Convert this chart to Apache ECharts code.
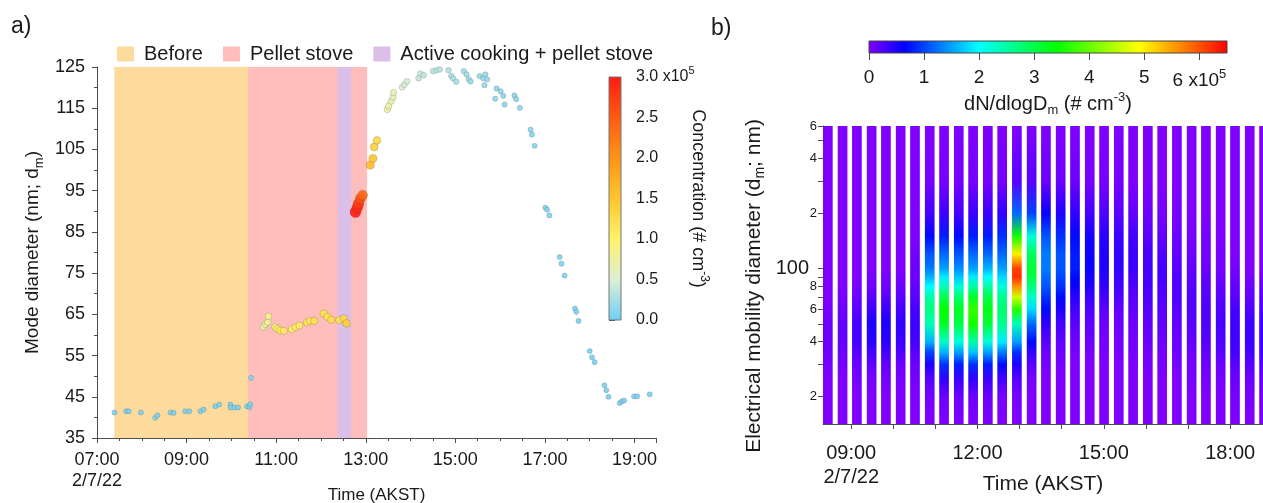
<!DOCTYPE html>
<html>
<head>
<meta charset="utf-8">
<script src="https://cdn.jsdelivr.net/npm/echarts@6/dist/echarts.min.js"></script>
<style>
  html, body { margin: 0; padding: 0; background: #fff; }
  #chart { width: 1263px; height: 503px; }
</style>
</head>
<body>
<div id="chart"></div>
<script>
// ---- panel a) mode diameter, time in decimal hours (AKST), conc in 1e5 #/cm3
var modeTime = [7.39, 7.65, 7.71, 7.98, 8.30, 8.35, 8.64, 8.71, 8.97, 9.06, 9.31, 9.38, 9.64, 9.73, 9.98, 9.98, 10.07, 10.15, 10.35, 10.40, 10.42, 10.44,
  10.71, 10.76, 10.81, 10.83, 10.98, 11.03, 11.09, 11.17, 11.35, 11.43, 11.52, 11.69, 11.76, 11.85, 12.06, 12.14, 12.23, 12.41, 12.51, 12.57,
  12.77, 12.81, 12.84, 12.88, 12.93,
  13.10, 13.16, 13.19, 13.25,
  13.48, 13.51, 13.57, 13.61, 13.62,
  13.81, 13.86, 13.92, 14.18, 14.22, 14.29, 14.50, 14.58, 14.65, 14.85, 14.91, 14.95, 15.02, 15.19, 15.25, 15.30, 15.34,
  15.54, 15.62, 15.67, 15.71, 15.65, 15.92, 16.01, 16.07, 15.89, 16.10, 16.32, 16.36, 16.44, 16.68, 16.71, 16.77,
  17.01, 17.05, 17.10, 17.33, 17.37, 17.44, 17.67, 17.70, 17.75, 18.00, 18.05, 18.11, 18.33, 18.37, 18.42, 18.67, 18.72, 18.77, 18.99, 19.06, 19.34];
var modeDiam = [41.2, 41.5, 41.5, 41.2, 39.9, 40.5, 41.2, 41.1, 41.5, 41.5, 41.5, 41.9, 42.7, 43.1, 43.1, 42.4, 42.4, 42.4, 42.7, 42.5, 43.2, 49.6,
  61.9, 62.6, 63.1, 64.5, 61.9, 61.5, 61.1, 61.0, 61.4, 61.9, 62.3, 63.1, 63.4, 63.4, 65.2, 64.4, 63.7, 63.6, 64.0, 62.8,
  89.8, 90.9, 91.9, 93.1, 93.9,
  101.2, 102.8, 105.6, 107.2,
  114.7, 115.5, 116.7, 117.7, 118.8,
  120.1, 120.7, 121.5, 122.3, 123.4, 123.0, 124.0, 124.2, 124.4, 124.2, 122.8, 122.2, 121.4, 124.0, 123.2, 122.0, 121.5,
  122.8, 122.3, 123.2, 122.0, 120.6, 119.8, 119.1, 118.0, 117.3, 115.9, 118.1, 117.2, 115.1, 109.8, 108.6, 105.9,
  90.9, 90.4, 89.0, 78.9, 77.3, 74.4, 66.4, 65.6, 63.4, 56.1, 54.6, 53.4, 47.8, 46.6, 45.0, 43.5, 43.9, 44.1, 45.1, 45.1, 45.6];
var modeConc = [0.05, 0.05, 0.05, 0.05, 0.05, 0.05, 0.05, 0.05, 0.05, 0.05, 0.05, 0.05, 0.05, 0.05, 0.05, 0.05, 0.05, 0.05, 0.05, 0.05, 0.05, 0.08,
  0.7, 0.75, 0.8, 0.85, 1.0, 1.05, 1.1, 1.1, 1.05, 1.1, 1.1, 1.15, 1.15, 1.2, 1.2, 1.2, 1.25, 1.2, 1.3, 1.4,
  3.0, 2.9, 2.8, 2.6, 2.4,
  1.6, 1.55, 1.4, 1.3,
  0.75, 0.7, 0.7, 0.65, 0.65,
  0.5, 0.48, 0.45, 0.4, 0.4, 0.38, 0.35, 0.33, 0.32, 0.28, 0.27, 0.26, 0.25, 0.22, 0.21, 0.2, 0.2,
  0.17, 0.17, 0.17, 0.17, 0.17, 0.14, 0.14, 0.14, 0.14, 0.14, 0.12, 0.12, 0.12, 0.1, 0.1, 0.1,
  0.08, 0.08, 0.08, 0.07, 0.07, 0.07, 0.06, 0.06, 0.06, 0.05, 0.05, 0.05, 0.05, 0.05, 0.05, 0.05, 0.05, 0.05, 0.05, 0.05, 0.05];

var periodNames = ['Before', 'Pellet stove', 'Active cooking + pellet stove'];
var periodStart = [7.387, 10.372, 12.373];
var periodEnd = [10.372, 13.03, 12.672];

var timeTicksA = [7, 9, 11, 13, 15, 17, 19];
var concTicks = [0, 0.5, 1.0, 1.5, 2.0, 2.5, 3.0];

// ---- panel b) size distribution scans (dN/dlogDm in 1e5 #/cm3)
var scanStart = [8.33, 8.68, 9.02, 9.37, 9.71, 10.06, 10.40, 10.75, 11.09, 11.44, 11.78, 12.13, 12.47, 12.82, 13.17, 13.51,
  13.86, 14.20, 14.55, 14.89, 15.24, 15.58, 15.93, 16.27, 16.62, 16.97, 17.31, 17.66, 18.00, 18.35, 18.69];
var scanLength = 0.23;
var sizeBins = [14, 20, 25, 30, 35, 40, 50, 60, 70, 80, 90, 100, 120, 150, 200, 300, 600];
var scanValues = [
  [0, 0, 0, 0.05, 0.1, 0.1, 0.1, 0.05, 0, 0, 0, 0, 0, 0, 0, 0, 0],
  [0, 0, 0, 0.05, 0.1, 0.15, 0.15, 0.1, 0.05, 0, 0, 0, 0, 0, 0, 0, 0],
  [0, 0, 0.05, 0.1, 0.2, 0.3, 0.3, 0.2, 0.1, 0.05, 0, 0, 0, 0, 0, 0, 0],
  [0, 0, 0.05, 0.15, 0.3, 0.45, 0.5, 0.35, 0.2, 0.1, 0.05, 0, 0, 0, 0, 0, 0],
  [0, 0, 0.05, 0.15, 0.3, 0.45, 0.5, 0.35, 0.2, 0.1, 0.05, 0, 0, 0, 0, 0, 0],
  [0, 0, 0.05, 0.1, 0.25, 0.35, 0.4, 0.3, 0.2, 0.1, 0.05, 0, 0, 0, 0, 0, 0],
  [0, 0, 0.05, 0.1, 0.2, 0.3, 0.35, 0.3, 0.2, 0.15, 0.1, 0.1, 0.05, 0, 0, 0, 0],
  [0, 0.05, 0.2, 0.5, 1.0, 1.6, 2.4, 2.7, 2.5, 2.0, 1.6, 1.3, 1.1, 0.7, 0.3, 0.05, 0],
  [0, 0.1, 0.4, 0.9, 1.6, 2.3, 3.2, 3.4, 3.0, 2.4, 1.9, 1.5, 1.2, 0.8, 0.35, 0.05, 0],
  [0, 0.1, 0.35, 0.8, 1.5, 2.2, 3.0, 3.2, 2.8, 2.2, 1.7, 1.4, 1.1, 0.7, 0.3, 0.05, 0],
  [0, 0.1, 0.4, 0.9, 1.7, 2.5, 3.5, 3.7, 3.2, 2.5, 1.9, 1.5, 1.2, 0.8, 0.35, 0.05, 0],
  [0, 0.1, 0.35, 0.8, 1.5, 2.2, 3.1, 3.3, 3.0, 2.5, 2.0, 1.6, 1.2, 0.8, 0.35, 0.05, 0],
  [0, 0.05, 0.3, 0.7, 1.3, 1.9, 2.6, 2.8, 2.6, 2.2, 1.8, 1.5, 1.2, 0.9, 0.4, 0.05, 0],
  [0, 0.05, 0.2, 0.5, 0.9, 1.5, 2.4, 3.6, 4.6, 5.6, 6.2, 6.1, 5.0, 3.5, 1.2, 0.2, 0],
  [0, 0, 0.05, 0.2, 0.4, 0.7, 1.2, 1.8, 2.3, 2.7, 3.0, 3.1, 2.9, 2.2, 1.0, 0.2, 0],
  [0, 0, 0, 0.05, 0.1, 0.2, 0.4, 0.7, 0.9, 1.1, 1.2, 1.3, 1.3, 1.1, 0.6, 0.1, 0],
  [0, 0, 0, 0.05, 0.1, 0.15, 0.3, 0.5, 0.7, 0.9, 1.0, 1.1, 1.1, 0.9, 0.5, 0.1, 0],
  [0, 0, 0, 0, 0.05, 0.1, 0.2, 0.3, 0.45, 0.6, 0.7, 0.8, 0.8, 0.7, 0.4, 0.1, 0],
  [0, 0, 0, 0, 0.05, 0.1, 0.15, 0.25, 0.35, 0.5, 0.55, 0.6, 0.6, 0.55, 0.3, 0.05, 0],
  [0, 0, 0, 0, 0.05, 0.05, 0.1, 0.2, 0.3, 0.4, 0.45, 0.5, 0.5, 0.45, 0.25, 0.05, 0],
  [0, 0, 0, 0, 0.05, 0.05, 0.1, 0.15, 0.25, 0.3, 0.35, 0.4, 0.4, 0.35, 0.2, 0.05, 0],
  [0, 0, 0, 0, 0.05, 0.05, 0.1, 0.15, 0.2, 0.25, 0.3, 0.35, 0.35, 0.3, 0.15, 0, 0],
  [0, 0, 0, 0.05, 0.05, 0.1, 0.15, 0.2, 0.25, 0.3, 0.3, 0.3, 0.3, 0.2, 0.1, 0, 0],
  [0, 0, 0, 0.05, 0.05, 0.1, 0.15, 0.2, 0.25, 0.25, 0.3, 0.3, 0.25, 0.15, 0.05, 0, 0],
  [0, 0, 0, 0.05, 0.1, 0.1, 0.15, 0.2, 0.25, 0.25, 0.25, 0.2, 0.15, 0.1, 0.05, 0, 0],
  [0, 0, 0.05, 0.05, 0.1, 0.15, 0.2, 0.25, 0.25, 0.2, 0.2, 0.15, 0.1, 0.05, 0, 0, 0],
  [0, 0, 0.05, 0.1, 0.15, 0.2, 0.25, 0.25, 0.2, 0.2, 0.15, 0.1, 0.05, 0.05, 0, 0, 0],
  [0, 0, 0.05, 0.1, 0.2, 0.25, 0.3, 0.25, 0.2, 0.15, 0.1, 0.05, 0.05, 0, 0, 0, 0],
  [0, 0.05, 0.1, 0.2, 0.3, 0.35, 0.35, 0.3, 0.2, 0.15, 0.1, 0.05, 0, 0, 0, 0, 0],
  [0, 0.05, 0.1, 0.2, 0.3, 0.35, 0.35, 0.25, 0.15, 0.1, 0.05, 0, 0, 0, 0, 0, 0],
  [0, 0.05, 0.1, 0.2, 0.3, 0.35, 0.35, 0.25, 0.15, 0.1, 0.05, 0, 0, 0, 0, 0, 0]
];
var timeTicksB = [9, 10, 11, 12, 13, 14, 15, 16, 17, 18];
var timeLabelsB = [9, 12, 15, 18];
var sizeTicks = [20, 30, 40, 50, 60, 70, 80, 90, 100, 200, 300, 400, 500, 600];
var sizeLabels = [20, 40, 60, 80, 100, 200, 400, 600];
var heatTicks = [0, 1, 2, 3, 4, 5, 6];

// colours
var FONT = 'Liberation Sans';
var INK = '#1a1a1a';
var AXIS = '#4d4d4d';
var periodColors = ['#fddb9c', '#ffbdbc', '#dbbfe9'];
var concPalette = ['#6dcff6', '#dcefd4', '#fff36b', '#ffc52e', '#ff9418', '#ff5a12', '#ff1a12'];
var heatStops = [[0, '#8000ff'], [0.65, '#0000ff'], [2.0, '#00ffff'], [3.4, '#00ff00'], [4.9, '#ffff00'], [6.5, '#ff0000']];
var heatMax = 6.5;

function hourLabel(v) {
  var h = Math.round(v);
  return (h < 10 ? '0' : '') + h + ':00';
}

function heatColor(v) {
  for (var k = 1; k < heatStops.length; k++) {
    var a = heatStops[k - 1], b = heatStops[k];
    if (v <= b[0] || k === heatStops.length - 1) {
      var f = Math.max(0, Math.min(1, (v - a[0]) / (b[0] - a[0])));
      return echarts.color.lerp(f, [a[1], b[1]]);
    }
  }
}

var chart = echarts.init(document.getElementById('chart'));

var scatterData = modeTime.map(function (t, i) { return [t, modeDiam[i], modeConc[i]]; });
var scanData = scanStart.map(function (t, i) { return [t, 100, i]; });

var lineStyle = { color: AXIS, width: 1 };
var supRich = {
  x: { fontFamily: FONT, color: INK, fontSize: 16, lineHeight: 24 },
  s: { fontFamily: FONT, color: INK, fontSize: 11, lineHeight: 24, verticalAlign: 'top' }
};

var bands = periodNames.map(function (name, k) {
  return {
    name: name, type: 'line', xAxisIndex: 0, yAxisIndex: 0, data: [], z: 1,
    itemStyle: { color: periodColors[k] },
    markArea: {
      silent: true,
      itemStyle: { color: periodColors[k], opacity: 1 },
      data: [[{ xAxis: periodStart[k] }, { xAxis: periodEnd[k] }]]
    }
  };
});

var option = {
  animation: false,
  textStyle: { fontFamily: FONT, color: INK },
  graphic: [
    { type: 'text', left: 11, top: 15, style: { text: 'a)', fontSize: 23, fontFamily: FONT, fill: INK } },
    { type: 'text', left: 711, top: 17, style: { text: 'b)', fontSize: 23, fontFamily: FONT, fill: INK } }
  ],
  legend: {
    left: 112, top: 39, icon: 'rect', itemWidth: 17, itemHeight: 15, itemGap: 20,
    selectedMode: false,
    textStyle: { fontSize: 20, color: INK, fontFamily: FONT, padding: [0, 0, 0, 5] },
    data: periodNames
  },
  visualMap: [{
    show: false, type: 'continuous', seriesIndex: 3, dimension: 2, min: 0, max: 3,
    inRange: { color: concPalette, symbolSize: [5, 11] }
  }],
  grid: [
    { left: 97, top: 67, width: 559, height: 371, outerBoundsMode: 'none' },
    { left: 823, top: 126, right: 0, height: 298, outerBoundsMode: 'none' },
    { left: 609, top: 77, width: 12, height: 243, outerBoundsMode: 'none' },
    { left: 869, top: 41, width: 358, height: 12, outerBoundsMode: 'none' }
  ],
  xAxis: [
    {
      gridIndex: 0, type: 'value', min: 7, max: 19.48, interval: 2,
      axisLine: { lineStyle: lineStyle },
      axisTick: { length: 5, lineStyle: lineStyle },
      minorTick: { show: true, splitNumber: 4, length: 3, lineStyle: lineStyle },
      splitLine: { show: false },
      axisLabel: {
        fontSize: 18, lineHeight: 21, margin: 12, color: INK, showMaxLabel: false,
        formatter: function (v) { return hourLabel(v) + (v === timeTicksA[0] ? '\n2/7/22' : ''); }
      },
      name: 'Time (AKST)', nameLocation: 'middle', nameGap: 49, nameMoveOverlap: false,
      nameTextStyle: { fontSize: 17, color: INK }
    },
    {
      gridIndex: 1, type: 'value', min: 8.33, max: 18.78,
      axisLine: { lineStyle: lineStyle },
      axisTick: { length: 5, lineStyle: lineStyle, customValues: timeTicksB },
      splitLine: { show: false },
      axisLabel: {
        fontSize: 20, lineHeight: 24, margin: 17, color: INK, customValues: timeLabelsB,
        formatter: function (v) { return hourLabel(v) + (v === timeLabelsB[0] ? '\n2/7/22' : ''); }
      },
      name: 'Time (AKST)', nameLocation: 'middle', nameGap: 50, nameMoveOverlap: false,
      nameTextStyle: { fontSize: 21, color: INK }
    },
    { gridIndex: 2, type: 'value', min: 0, max: 1, show: false },
    {
      gridIndex: 3, type: 'value', min: 0, max: heatMax, position: 'bottom',
      axisLine: { show: false },
      axisTick: { length: 7, lineStyle: lineStyle, customValues: heatTicks },
      splitLine: { show: false },
      axisLabel: {
        fontSize: 19, margin: 15, color: INK, customValues: heatTicks,
        formatter: function (v) { return v === 6 ? '6 {x|x10}{s|5}' : String(v); },
        rich: {
          x: { fontFamily: FONT, color: INK, fontSize: 19, lineHeight: 26 },
          s: { fontFamily: FONT, color: INK, fontSize: 13, lineHeight: 26, verticalAlign: 'top' }
        }
      },
      name: 'dN/dlogD{sub|m} (# cm{sup|-3})', nameLocation: 'middle', nameGap: 37,
      nameTextStyle: {
        fontSize: 20, color: INK, lineHeight: 26,
        rich: {
          sub: { fontFamily: FONT, color: INK, fontSize: 13, lineHeight: 26, verticalAlign: 'bottom' },
          sup: { fontFamily: FONT, color: INK, fontSize: 13, lineHeight: 26, verticalAlign: 'top' }
        }
      }
    }
  ],
  yAxis: [
    {
      gridIndex: 0, type: 'value', min: 35, max: 125, interval: 10,
      axisLine: { show: true, lineStyle: lineStyle },
      axisTick: { show: true, length: 5, lineStyle: lineStyle },
      minorTick: { show: true, splitNumber: 2, length: 3, lineStyle: lineStyle },
      splitLine: { show: false },
      axisLabel: { fontSize: 18, margin: 12, color: INK },
      name: 'Mode diameter (nm; d{sub|m})', nameLocation: 'middle', nameGap: 51, nameMoveOverlap: false,
      nameTextStyle: {
        fontSize: 19, color: INK, lineHeight: 26,
        rich: { sub: { fontFamily: FONT, color: INK, fontSize: 13, lineHeight: 26, verticalAlign: 'bottom' } }
      }
    },
    {
      gridIndex: 1, type: 'log', logBase: 10, min: 14.2, max: 600,
      axisLine: { show: true, lineStyle: lineStyle },
      axisTick: { show: true, length: 5, lineStyle: lineStyle, customValues: sizeTicks },
      splitLine: { show: false },
      axisLabel: {
        margin: 6, color: INK, customValues: sizeLabels,
        formatter: function (v) {
          if (v === 100) return '{b|100}';
          var lead = Math.round(v / Math.pow(10, Math.floor(Math.log10(v) + 1e-9)));
          return '{s|' + lead + '}';
        },
        rich: {
          b: { fontFamily: FONT, color: INK, fontSize: 20, padding: [0, 8, 0, 0] },
          s: { fontFamily: FONT, color: INK, fontSize: 13 }
        }
      },
      name: 'Electrical mobility diameter (d{sub|m}; nm)', nameLocation: 'middle', nameGap: 56, nameMoveOverlap: false,
      nameTextStyle: {
        fontSize: 21, color: INK, lineHeight: 26, padding: [0, 22, 0, 0],
        rich: { sub: { fontFamily: FONT, color: INK, fontSize: 14, lineHeight: 26, verticalAlign: 'bottom' } }
      }
    },
    {
      gridIndex: 2, type: 'value', min: 0, max: 3, interval: 0.5, position: 'right',
      axisLine: { show: true, lineStyle: { color: '#777', width: 1 } },
      axisTick: { show: true, length: 6, lineStyle: lineStyle },
      splitLine: { show: false },
      axisLabel: {
        fontSize: 16, lineHeight: 24, margin: 15, color: INK,
        formatter: function (v) { return v === concTicks[concTicks.length - 1] ? v.toFixed(1) + ' {x|x10}{s|5}' : v.toFixed(1); },
        rich: supRich
      },
      name: 'Concentration (# cm{sup|-3})', nameLocation: 'middle', nameRotate: -90, nameGap: 65, nameMoveOverlap: false,
      nameTextStyle: {
        fontSize: 18, color: INK, lineHeight: 24,
        rich: { sup: { fontFamily: FONT, color: INK, fontSize: 12, lineHeight: 24, verticalAlign: 'top' } }
      }
    },
    { gridIndex: 3, type: 'value', min: 0, max: 1, show: false }
  ],
  series: bands.concat([
    {
      type: 'scatter', xAxisIndex: 0, yAxisIndex: 0, z: 3, symbol: 'circle',
      data: scatterData,
      itemStyle: { borderColor: 'rgba(70,70,70,0.35)', borderWidth: 0.7, opacity: 0.9 }
    },
    {
      type: 'custom', xAxisIndex: 1, yAxisIndex: 1, clip: true,
      data: scanData,
      encode: { x: 0, y: 1 },
      renderItem: function (params, api) {
        var t = api.value(0), row = scanValues[api.value(2)];
        var p0 = api.coord([t, sizeBins[sizeBins.length - 1]]);
        var p1 = api.coord([t + scanLength, sizeBins[0]]);
        var h = p1[1] - p0[1];
        var stops = [];
        for (var j = sizeBins.length - 1; j >= 0; j--) {
          var y = api.coord([t, sizeBins[j]])[1];
          stops.push({ offset: Math.max(0, Math.min(1, (y - p0[1]) / h)), color: heatColor(row[j]) });
        }
        return {
          type: 'rect',
          shape: { x: p0[0], y: p0[1], width: p1[0] - p0[0], height: h },
          style: { fill: new echarts.graphic.LinearGradient(0, 0, 0, 1, stops) }
        };
      }
    },
    {
      type: 'custom', xAxisIndex: 2, yAxisIndex: 2, silent: true,
      data: [[0, 0]],
      renderItem: function (params, api) {
        var p0 = api.coord([0, concTicks[concTicks.length - 1]]);
        var p1 = api.coord([1, 0]);
        var n = concPalette.length;
        return {
          type: 'rect',
          shape: { x: p0[0], y: p0[1], width: p1[0] - p0[0], height: p1[1] - p0[1] },
          style: {
            fill: new echarts.graphic.LinearGradient(0, 1, 0, 0, concPalette.map(function (c, k) { return { offset: k / (n - 1), color: c }; })),
            stroke: '#777', lineWidth: 1
          }
        };
      }
    },
    {
      type: 'custom', xAxisIndex: 3, yAxisIndex: 3, silent: true,
      data: [[0, 0]],
      renderItem: function (params, api) {
        var p0 = api.coord([0, 1]);
        var p1 = api.coord([heatMax, 0]);
        return {
          type: 'rect',
          shape: { x: p0[0], y: p0[1], width: p1[0] - p0[0], height: p1[1] - p0[1] },
          style: {
            fill: new echarts.graphic.LinearGradient(0, 0, 1, 0, heatStops.map(function (s) { return { offset: s[0] / heatMax, color: s[1] }; })),
            stroke: '#444', lineWidth: 1
          }
        };
      }
    }
  ])
};

chart.setOption(option);
</script>
</body>
</html>
